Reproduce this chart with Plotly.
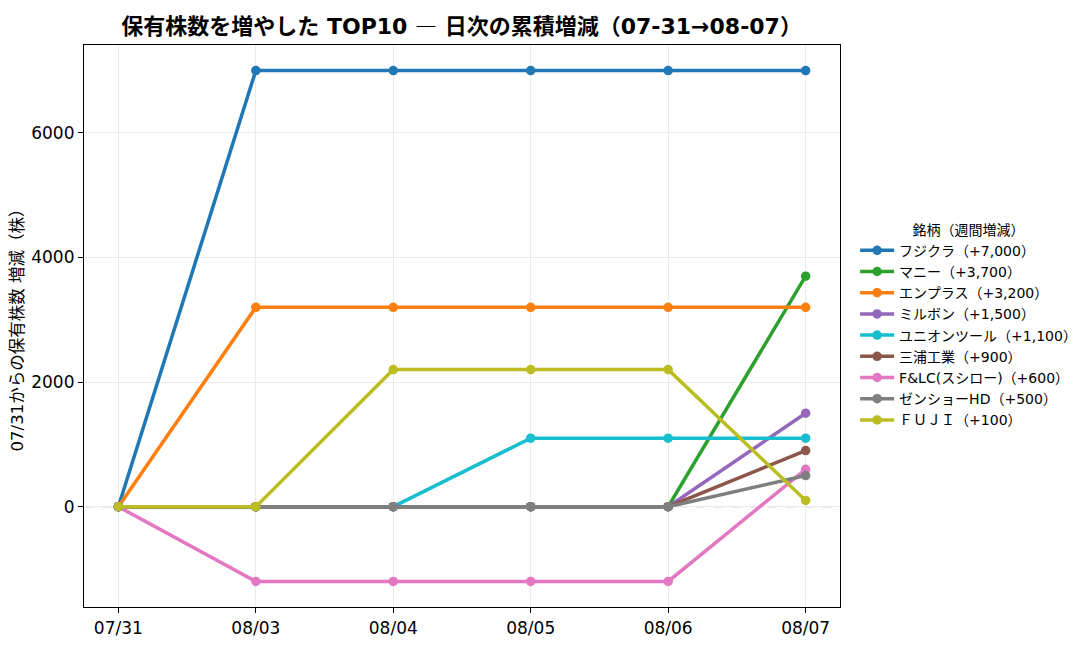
import plotly.graph_objects as go

dates = ["07/31", "08/03", "08/04", "08/05", "08/06", "08/07"]

names = ["フジクラ（+7,000）", "マニー（+3,700）", "エンプラス（+3,200）", "ミルボン（+1,500）",
         "ユニオンツール（+1,100）", "三浦工業（+900）", "F&LC(スシロー)（+600）",
         "ゼンショーHD（+500）", "ＦＵＪＩ（+100）"]

fujikura = [0, 7000, 7000, 7000, 7000, 7000]
mani = [0, 0, 0, 0, 0, 3700]
enplas = [0, 3200, 3200, 3200, 3200, 3200]
milbon = [0, 0, 0, 0, 0, 1500]
union_tool = [0, 0, 0, 1100, 1100, 1100]
miura = [0, 0, 0, 0, 0, 900]
flc = [0, -1200, -1200, -1200, -1200, 600]
zensho = [0, 0, 0, 0, 0, 500]
fuji = [0, 0, 2200, 2200, 2200, 100]

series = [fujikura, mani, enplas, milbon, union_tool, miura, flc, zensho, fuji]
colors = ["#1f77b4", "#2ca02c", "#ff7f0e", "#9467bd", "#17becf",
          "#8c564b", "#e377c2", "#7f7f7f", "#bcbd22"]

font = "DejaVu Sans, Noto Sans CJK JP"

fig = go.Figure()

for name, vals, c in zip(names, series, colors):
    fig.add_trace(go.Scatter(x=dates, y=vals, name=name, mode="lines+markers",
                             line=dict(color=c, width=3.5),
                             marker=dict(color=c, size=9.5)))

# dashed 0 line, between grid and traces
fig.add_shape(type="line", xref="paper", x0=0, x1=1, yref="y", y0=0, y1=0,
              line=dict(color="#a8a8a8", width=1.3, dash="dash"), layer="between")

title = ("<b>保有株数を増やした TOP10 </b>"
         "<span style='font-family:Noto Sans CJK JP'>―</span>"
         "<b> 日次の累積増減（07-31→08-07）</b>")

# page has 8px body margin, so size and margins are shifted by 8
fig.update_layout(
    width=1080, height=640,
    margin=dict(l=76, r=248, t=37, b=41, autoexpand=False),
    paper_bgcolor="white", plot_bgcolor="white",
    font=dict(family=font, color="black", size=15),
    title=dict(text=title, x=0.42, xanchor="center", y=0.972, yanchor="middle",
               font=dict(size=22, family=font)),
    legend=dict(x=1.02, y=0.5, xanchor="left", yanchor="middle",
                font=dict(size=14, family=font), tracegroupgap=0,
                title=dict(text="銘柄（週間増減）", side="top center", font=dict(size=14)),
                itemwidth=34),
    showlegend=True,
)

fig.update_xaxes(type="category", range=[-0.25, 5.25], automargin=False,
                 showline=True, linecolor="black", linewidth=1.2, mirror=True,
                 ticks="outside", ticklen=5, tickcolor="black",
                 showgrid=True, gridcolor="#ebebeb", gridwidth=1,
                 tickfont=dict(size=17))
fig.update_yaxes(range=[-1610, 7410], tickvals=[0, 2000, 4000, 6000], tickformat="d",
                 automargin=False,
                 showline=True, linecolor="black", linewidth=1.2, mirror=True,
                 ticks="outside", ticklen=5, tickcolor="black",
                 showgrid=True, gridcolor="#ebebeb", gridwidth=1, zeroline=False,
                 tickfont=dict(size=17),
                 title=dict(text="07/31からの保有株数 増減（株）", font=dict(size=16.5), standoff=8))

fig.write_html("out.html")
